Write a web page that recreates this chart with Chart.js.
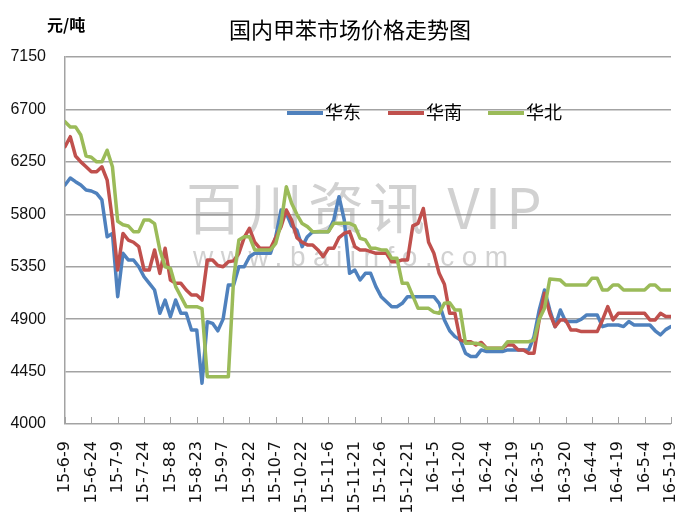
<!DOCTYPE html>
<html>
<head>
<meta charset="utf-8">
<script src="https://cdn.jsdelivr.net/npm/chart.js@4/dist/chart.umd.min.js"></script>
<style>
    body { margin: 0; background: #fff; }
    canvas { display: block; }
</style>
</head>
<body>
<canvas id="chart" width="679" height="530"></canvas>
<script>
// Day offsets from 15-6-9, one reading every 3 days
var days = [];
for (var d = 0; d <= 345; d += 3) {
    days.push(d);
}

var tickLabels = [
    "15-6-9", "15-6-24", "15-7-9", "15-7-24", "15-8-8", "15-8-23", "15-9-7", "15-9-22",
    "15-10-7", "15-10-22", "15-11-6", "15-11-21", "15-12-6", "15-12-21", "16-1-5", "16-1-20",
    "16-2-4", "16-2-19", "16-3-5", "16-3-20", "16-4-4", "16-4-19", "16-5-4", "16-5-19"
];

var seriesNames = ["华东", "华南", "华北"];

var eastValues = [
    6051, 6111, 6080, 6051, 6008, 6000, 5980, 5923, 5608, 5636,
    5093, 5465, 5408, 5408, 5350, 5264, 5207, 5150, 4950, 5064,
    4921, 5064, 4950, 4950, 4807, 4807, 4350, 4878, 4864, 4800,
    4900, 5193, 5193, 5350, 5350, 5436, 5465, 5465, 5465, 5465,
    5608, 5837, 5808, 5700, 5665, 5522, 5608, 5651, 5651, 5651,
    5651, 5751, 5951, 5751, 5293, 5322, 5236, 5293, 5293, 5179,
    5093, 5050, 5007, 5007, 5036, 5093, 5093, 5093, 5093, 5093,
    5093, 5036, 4893, 4800, 4750, 4722, 4608, 4579, 4579, 4636,
    4622, 4622, 4622, 4622, 4636, 4636, 4636, 4636, 4636, 4750,
    4979, 5150, 4979, 4836, 4979, 4879, 4879, 4879, 4900, 4936,
    4936, 4936, 4836, 4850, 4850, 4850, 4836, 4879, 4850, 4850,
    4850, 4850, 4800, 4765, 4810, 4836
];

var southValues = [
    6380, 6466, 6300, 6250, 6208, 6165, 6165, 6208, 6094, 5750,
    5322, 5636, 5579, 5560, 5522, 5322, 5322, 5494, 5293, 5508,
    5236, 5207, 5207, 5150, 5107, 5107, 5064, 5408, 5408, 5360,
    5350, 5393, 5400, 5465, 5600, 5680, 5560, 5508, 5508, 5508,
    5600, 5694, 5837, 5751, 5600, 5560, 5537, 5537, 5494, 5437,
    5508, 5508, 5600, 5637, 5651, 5522, 5494, 5494, 5480, 5465,
    5465, 5465, 5393, 5393, 5408, 5408, 5700, 5722, 5850, 5560,
    5465, 5293, 5200, 4950, 4950, 4722, 4707, 4707, 4679, 4700,
    4650, 4650, 4650, 4650, 4679, 4679, 4636, 4636, 4608, 4608,
    4900, 5122, 4950, 4836, 4893, 4893, 4807, 4807, 4793, 4793,
    4793, 4793, 4893, 5007, 4893, 4950, 4950, 4950, 4950, 4950,
    4950, 4893, 4893, 4950, 4922, 4922
];

var northValues = [
    6595, 6550, 6550, 6480, 6300, 6290, 6250, 6250, 6350, 6208,
    5740, 5710, 5700, 5651, 5651, 5751, 5751, 5720, 5494, 5350,
    5336, 5179, 5093, 5007, 5007, 5007, 4990, 4406, 4406, 4406,
    4406, 4406, 5250, 5580, 5608, 5608, 5494, 5494, 5494, 5494,
    5550, 5720, 6037, 5894, 5800, 5720, 5694, 5651, 5651, 5651,
    5651, 5722, 5722, 5722, 5722, 5700, 5594, 5580, 5508, 5508,
    5494, 5494, 5422, 5422, 5207, 5207, 5100, 4993, 4993, 4993,
    4960, 4950, 5036, 5040, 4979, 4979, 4693, 4693, 4693, 4680,
    4650, 4650, 4650, 4650, 4707, 4707, 4707, 4707, 4707, 4720,
    4900, 4993, 5245, 5240, 5235, 5193, 5193, 5193, 5193, 5193,
    5251, 5251, 5150, 5150, 5193, 5193, 5150, 5150, 5150, 5150,
    5150, 5193, 5193, 5150, 5150, 5150
];

var seriesColors = ["#4f81bd", "#c0504d", "#9bbb59"];
var grid_color = "#a3a3a3";
var cjk_font = "'Noto Sans CJK SC', sans-serif";

function to_points (values) {
    return days.map(function (day, i) {
        return {"x": day, "y": values[i]};
    });
}

// Title, unit label, watermark, inner tick marks and the in-plot legend
var overlayPlugin = {
    "id": "overlay",
    "beforeDatasetsDraw": function (chart) {
        var ctx = chart.ctx;
        var area = chart.chartArea;
        var x_scale = chart.scales.x;

        ctx.save();

        ctx.fillStyle = "rgba(140, 140, 140, 0.4)";
        ctx.textAlign = "left";
        ctx.textBaseline = "alphabetic";
        ctx.letterSpacing = "5px";
        ctx.font = "56px " + cjk_font;
        ctx.fillText("百川资讯 VIP", 186, 229);

        ctx.letterSpacing = "7.5px";
        ctx.font = "28px 'Liberation Sans'";
        ctx.fillText("www.baiinfo.com", 193, 266);
        ctx.letterSpacing = "0px";

        ctx.strokeStyle = grid_color;
        ctx.lineWidth = 1;

        x_scale.ticks.forEach(function (tick) {
            var px = Math.round(x_scale.getPixelForValue(tick.value)) + 0.5;

            ctx.beginPath();
            ctx.moveTo(px, area.bottom);
            ctx.lineTo(px, area.bottom - 7);
            ctx.stroke();
        });

        ctx.restore();
    },
    "afterDraw": function (chart) {
        var ctx = chart.ctx;

        ctx.save();

        ctx.fillStyle = "#000";
        ctx.textBaseline = "middle";
        ctx.textAlign = "center";
        ctx.font = "22px " + cjk_font;
        ctx.fillText("国内甲苯市场价格走势图", 350, 30);

        ctx.textAlign = "left";
        ctx.font = "bold 16px " + cjk_font;
        ctx.fillText("元/吨", 47, 25);

        var legend_x = [287, 388, 488];

        ctx.font = "18px " + cjk_font;
        ctx.lineWidth = 4;

        chart.data.datasets.forEach(function (dataset, i) {
            ctx.strokeStyle = dataset.borderColor;
            ctx.beginPath();
            ctx.moveTo(legend_x[i], 113);
            ctx.lineTo(legend_x[i] + 36, 113);
            ctx.stroke();

            ctx.fillStyle = "#000";
            ctx.fillText(dataset.label, legend_x[i] + 38, 112);
        });

        ctx.restore();
    }
};

var config = {
    "type": "line",
    "data": {
        "datasets": [
            {
                "label": seriesNames[0],
                "data": to_points(eastValues),
                "borderColor": seriesColors[0],
                "order": 2
            },
            {
                "label": seriesNames[1],
                "data": to_points(southValues),
                "borderColor": seriesColors[1],
                "order": 1
            },
            {
                "label": seriesNames[2],
                "data": to_points(northValues),
                "borderColor": seriesColors[2],
                "order": 0
            }
        ]
    },
    "options": {
        "responsive": false,
        "animation": false,
        "layout": {
            "padding": {"left": 0, "right": 8, "top": 57, "bottom": 0}
        },
        "elements": {
            "line": {
                "borderWidth": 3.5,
                "tension": 0,
                "borderJoinStyle": "round",
                "borderCapStyle": "round"
            },
            "point": {
                "radius": 0
            }
        },
        "scales": {
            "x": {
                "type": "linear",
                "min": 0,
                "max": 345,
                "grid": {
                    "display": false,
                    "drawTicks": false
                },
                "border": {
                    "display": false
                },
                "ticks": {
                    "stepSize": 15,
                    "maxTicksLimit": 30,
                    "autoSkip": false,
                    "minRotation": 90,
                    "maxRotation": 90,
                    "padding": 17,
                    "color": "#111",
                    "font": {
                        "family": "DejaVu Sans",
                        "size": 16
                    },
                    "callback": function (value) {
                        return tickLabels[Math.round(value / 15)];
                    }
                },
                "afterFit": function (scale) {
                    scale.height = 106;
                    scale.paddingLeft = 0;
                    scale.paddingRight = 0;
                }
            },
            "y": {
                "min": 4000,
                "max": 7150,
                "grid": {
                    "color": grid_color,
                    "lineWidth": 1.5,
                    "drawTicks": false
                },
                "border": {
                    "color": grid_color,
                    "width": 1.5
                },
                "ticks": {
                    "stepSize": 450,
                    "padding": 19,
                    "color": "#111",
                    "font": {
                        "family": "Liberation Sans",
                        "size": 16
                    },
                    "callback": function (value) {
                        return String(value);
                    }
                },
                "afterFit": function (scale) {
                    scale.width = 65;
                    scale.paddingTop = 0;
                    scale.paddingBottom = 0;
                }
            }
        },
        "plugins": {
            "legend": {
                "display": false
            },
            "tooltip": {
                "enabled": false
            },
            "title": {
                "display": false
            }
        }
    },
    "plugins": [overlayPlugin]
};

new Chart(document.getElementById("chart").getContext("2d"), config);
</script>
</body>
</html>
